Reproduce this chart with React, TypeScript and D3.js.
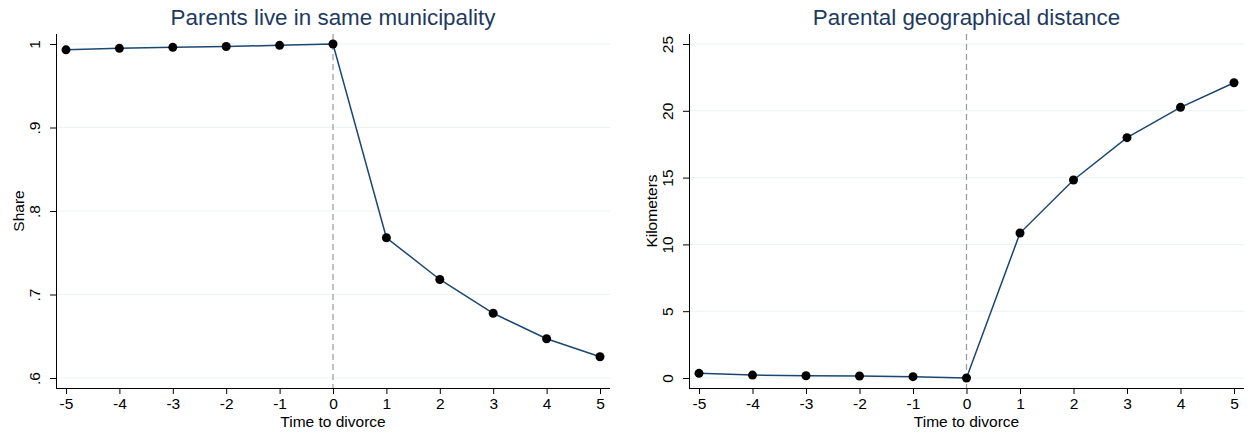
import React, { useEffect, useRef } from "react";
import * as d3 from "d3";

const years = [-5, -4, -3, -2, -1, 0, 1, 2, 3, 4, 5];
const shareSame = [0.993, 0.9948, 0.996, 0.997, 0.9984, 1.0, 0.768, 0.718, 0.6775, 0.647, 0.6255];
const distanceKm = [0.35, 0.22, 0.17, 0.15, 0.1, 0.0, 10.85, 14.82, 17.99, 20.26, 22.1];
const shareTicks = [0.6, 0.7, 0.8, 0.9, 1];
const kmTicks = [0, 5, 10, 15, 20, 25];

const font = "'Liberation Sans', Arial, sans-serif";
const fs = "15.5px";

type Panel = {
  title: string;
  ylabel: string;
  values: number[];
  ticks: number[];
  domain: [number, number];
  fmt: (v: number) => string;
  left: number;
  right: number;
};

const panels: Panel[] = [
  {
    title: "Parents live in same municipality",
    ylabel: "Share",
    values: shareSame,
    ticks: shareTicks,
    domain: [0.6, 1],
    fmt: v => (v === 1 ? "1" : v.toFixed(1).replace(/^0/, "")),
    left: 56,
    right: 610,
  },
  {
    title: "Parental geographical distance",
    ylabel: "Kilometers",
    values: distanceKm,
    ticks: kmTicks,
    domain: [0, 25],
    fmt: v => String(v),
    left: 689,
    right: 1244,
  },
];

export default function App() {
  const svgRef = useRef<SVGSVGElement>(null);

  useEffect(() => {
    const svg = d3.select(svgRef.current);
    svg.selectAll("*").remove();
    const top = 34, bottom = 388;

    panels.forEach(p => {
      const x = d3.scaleLinear().domain([-5, 5]).range([p.left + 10, p.right - 10]);
      const y = d3.scaleLinear().domain(p.domain).range([378, 44]);
      const g = svg.append("g");

      // grid
      g.selectAll("line.grid").data(p.ticks).enter().append("line")
        .attr("x1", p.left).attr("x2", p.right)
        .attr("y1", d => y(d)).attr("y2", d => y(d))
        .attr("stroke", "#eaf2f3").attr("stroke-width", 1);

      // dashed zero line
      g.append("line")
        .attr("x1", x(0)).attr("x2", x(0))
        .attr("y1", top).attr("y2", bottom)
        .attr("stroke", "#999").attr("stroke-width", 1.2)
        .attr("stroke-dasharray", "6,4");

      // y axis
      const ya = g.append("g").attr("transform", `translate(${p.left},0)`)
        .call(d3.axisLeft(y).tickValues(p.ticks).tickSize(6).tickFormat(d => p.fmt(d as number)));
      ya.select(".domain").attr("d", `M0.5,${top}V${bottom}`).attr("stroke", "#000");
      ya.selectAll(".tick line").attr("stroke", "#000");
      ya.selectAll(".tick text")
        .attr("transform", "rotate(-90)")
        .attr("x", 0).attr("y", -16.5).attr("dy", 0)
        .attr("text-anchor", "middle")
        .style("font-family", font).style("font-size", fs).attr("fill", "#000");

      // x axis
      const xa = g.append("g").attr("transform", `translate(0,${bottom})`)
        .call(d3.axisBottom(x).tickValues(years).tickSize(6).tickFormat(d => String(d)));
      xa.select(".domain").attr("d", `M${p.left},0.5H${p.right}`).attr("stroke", "#000");
      xa.selectAll(".tick line").attr("stroke", "#000");
      xa.selectAll(".tick text").attr("y", 9.5)
        .style("font-family", font).style("font-size", fs).attr("fill", "#000");

      // line + markers
      const line = d3.line<number>().x((_, i) => x(years[i])).y(d => y(d));
      g.append("path").datum(p.values)
        .attr("d", line).attr("fill", "none")
        .attr("stroke", "#1a476f").attr("stroke-width", 1.5);
      g.selectAll("circle").data(p.values).enter().append("circle")
        .attr("cx", (_, i) => x(years[i])).attr("cy", d => y(d))
        .attr("r", 4.5).attr("fill", "#000");

      const cx = (p.left + p.right) / 2;
      g.append("text").attr("x", cx).attr("y", 25)
        .attr("text-anchor", "middle")
        .style("font-family", font).style("font-size", "22.4px")
        .attr("fill", "#1e3a5f").text(p.title);

      g.append("text").attr("x", x(0)).attr("y", 427)
        .attr("text-anchor", "middle")
        .style("font-family", font).style("font-size", fs)
        .attr("fill", "#000").text("Time to divorce");

      g.append("text")
        .attr("transform", `translate(${p.left - 32},${(top + bottom) / 2}) rotate(-90)`)
        .attr("text-anchor", "middle")
        .style("font-family", font).style("font-size", fs)
        .attr("fill", "#000").text(p.ylabel);
    });
  }, []);

  return (
    <svg ref={svgRef} width={1249} height={434}
      style={{ position: "absolute", left: 0, top: 0, background: "#fff" }} />
  );
}
